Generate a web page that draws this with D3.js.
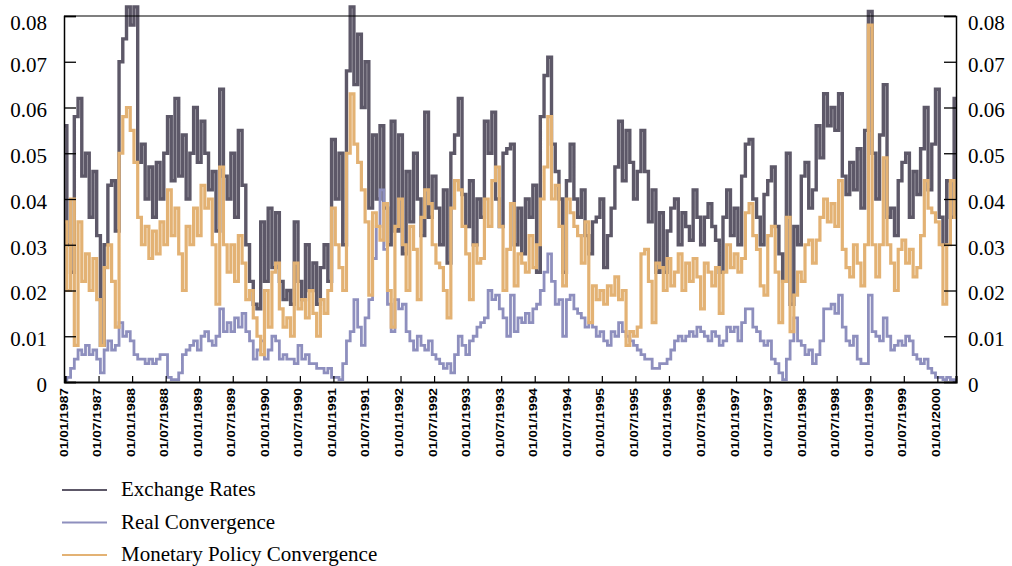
<!DOCTYPE html>
<html>
<head>
<meta charset="utf-8">
<script src="https://cdn.jsdelivr.net/npm/d3@7"></script>
<style>
  body { margin: 0; background: #fff; }
  svg { display: block; }
</style>
</head>
<body>
<svg id="chart"></svg>
<script>
'use strict'

// half-year tick labels (one every 9 points)
const tickLabels = [
  "01/01/1987", "01/07/1987", "01/01/1988", "01/07/1988", "01/01/1989", "01/07/1989",
  "01/01/1990", "01/07/1990", "01/01/1991", "01/07/1991", "01/01/1992", "01/07/1992",
  "01/01/1993", "01/07/1993", "01/01/1994", "01/07/1994", "01/01/1995", "01/07/1995",
  "01/01/1996", "01/07/1996", "01/01/1997", "01/07/1997", "01/01/1998", "01/07/1998",
  "01/01/1999", "01/07/1999", "01/01/2000"
]
const seriesNames = ["Exchange Rates", "Real Convergence", "Monetary Policy Convergence"]
const yTicks = [0, 0.01, 0.02, 0.03, 0.04, 0.05, 0.06, 0.07, 0.08]

const exchangeRates = [
  0.056,0.030,0.024,0.058,0.062,0.045,0.050,0.036,0.046,0.032,
  0.008,0.030,0.043,0.044,0.033,0.070,0.075,0.082,0.078,0.082,
  0.048,0.052,0.040,0.047,0.036,0.048,0.040,0.050,0.058,0.044,
  0.062,0.045,0.054,0.040,0.050,0.060,0.048,0.057,0.050,0.042,
  0.046,0.033,0.064,0.045,0.040,0.050,0.036,0.055,0.043,0.030,
  0.022,0.017,0.016,0.035,0.022,0.038,0.025,0.037,0.022,0.018,
  0.020,0.017,0.035,0.022,0.018,0.030,0.020,0.026,0.017,0.025,
  0.030,0.022,0.053,0.040,0.050,0.030,0.068,0.082,0.065,0.076,
  0.060,0.070,0.038,0.054,0.040,0.056,0.038,0.030,0.057,0.033,
  0.054,0.028,0.046,0.035,0.050,0.040,0.032,0.059,0.036,0.045,
  0.038,0.030,0.042,0.026,0.050,0.054,0.062,0.041,0.034,0.044,
  0.030,0.040,0.036,0.057,0.050,0.059,0.040,0.034,0.050,0.051,
  0.052,0.030,0.038,0.028,0.040,0.036,0.043,0.024,0.058,0.067,
  0.071,0.052,0.046,0.040,0.024,0.044,0.052,0.040,0.036,0.042,
  0.032,0.028,0.035,0.036,0.040,0.025,0.032,0.038,0.047,0.057,
  0.044,0.055,0.048,0.040,0.046,0.055,0.046,0.035,0.042,0.024,
  0.037,0.024,0.033,0.038,0.040,0.030,0.037,0.034,0.031,0.042,
  0.036,0.030,0.036,0.039,0.034,0.031,0.024,0.036,0.042,0.032,
  0.038,0.030,0.045,0.052,0.053,0.040,0.036,0.030,0.041,0.044,
  0.047,0.034,0.028,0.022,0.050,0.017,0.034,0.030,0.045,0.048,
  0.038,0.042,0.056,0.049,0.063,0.056,0.060,0.055,0.063,0.045,
  0.041,0.048,0.042,0.051,0.038,0.055,0.081,0.050,0.040,0.054,
  0.065,0.036,0.038,0.032,0.044,0.048,0.050,0.036,0.046,0.041,
  0.051,0.060,0.042,0.052,0.064,0.036,0.030,0.044,0.036,0.062
]

const realConvergence = [
  0.0005,0.001,0.003,0.005,0.007,0.006,0.008,0.006,0.007,0.005,
  0.002,0.007,0.009,0.007,0.008,0.013,0.010,0.011,0.009,0.006,
  0.005,0.005,0.004,0.005,0.004,0.005,0.006,0.006,0.001,0.0005,
  0.0005,0.002,0.006,0.007,0.008,0.009,0.007,0.010,0.011,0.009,
  0.008,0.010,0.016,0.011,0.013,0.011,0.014,0.012,0.015,0.011,
  0.009,0.005,0.007,0.009,0.005,0.007,0.010,0.009,0.005,0.006,
  0.005,0.005,0.004,0.008,0.005,0.006,0.004,0.004,0.003,0.003,
  0.002,0.003,0.001,0.001,0.0005,0.004,0.009,0.011,0.018,0.012,
  0.008,0.014,0.018,0.027,0.034,0.042,0.029,0.017,0.011,0.018,
  0.016,0.017,0.011,0.009,0.007,0.010,0.008,0.007,0.009,0.006,
  0.005,0.004,0.003,0.004,0.002,0.006,0.010,0.008,0.006,0.009,
  0.010,0.012,0.013,0.014,0.020,0.018,0.019,0.016,0.014,0.010,
  0.019,0.011,0.014,0.013,0.015,0.013,0.016,0.017,0.020,0.024,
  0.028,0.022,0.017,0.018,0.010,0.018,0.019,0.016,0.015,0.014,
  0.012,0.013,0.012,0.010,0.011,0.009,0.008,0.011,0.010,0.013,
  0.011,0.010,0.009,0.008,0.007,0.006,0.005,0.005,0.003,0.003,
  0.004,0.004,0.005,0.007,0.009,0.010,0.009,0.010,0.011,0.010,
  0.012,0.011,0.010,0.009,0.011,0.010,0.008,0.009,0.012,0.011,
  0.012,0.009,0.013,0.016,0.016,0.012,0.011,0.009,0.008,0.009,
  0.005,0.004,0.002,0.0005,0.005,0.009,0.014,0.009,0.008,0.006,
  0.007,0.004,0.006,0.009,0.016,0.016,0.017,0.015,0.019,0.012,
  0.009,0.008,0.010,0.005,0.004,0.004,0.019,0.011,0.010,0.009,
  0.014,0.010,0.007,0.008,0.009,0.008,0.010,0.009,0.006,0.005,
  0.004,0.005,0.003,0.002,0.001,0.001,0.0005,0.001,0.0005,0.0003
]

const monetaryConvergence = [
  0.035,0.020,0.040,0.008,0.035,0.022,0.028,0.020,0.027,0.018,
  0.008,0.025,0.030,0.022,0.012,0.050,0.058,0.060,0.055,0.048,
  0.036,0.030,0.034,0.027,0.033,0.028,0.035,0.030,0.042,0.032,
  0.038,0.028,0.020,0.034,0.030,0.038,0.032,0.043,0.038,0.040,
  0.030,0.017,0.047,0.030,0.024,0.030,0.022,0.032,0.026,0.018,
  0.020,0.014,0.010,0.006,0.020,0.012,0.024,0.026,0.016,0.012,
  0.014,0.010,0.026,0.016,0.018,0.014,0.020,0.015,0.010,0.018,
  0.015,0.020,0.038,0.030,0.025,0.020,0.050,0.063,0.052,0.048,
  0.042,0.035,0.019,0.037,0.034,0.031,0.039,0.020,0.012,0.034,
  0.040,0.030,0.020,0.034,0.029,0.018,0.036,0.042,0.039,0.030,
  0.026,0.025,0.020,0.014,0.038,0.044,0.042,0.034,0.028,0.018,
  0.030,0.026,0.027,0.040,0.034,0.044,0.047,0.034,0.020,0.029,
  0.039,0.021,0.028,0.026,0.024,0.032,0.025,0.030,0.040,0.047,
  0.058,0.040,0.043,0.034,0.021,0.040,0.037,0.034,0.032,0.026,
  0.035,0.013,0.021,0.018,0.020,0.017,0.021,0.019,0.023,0.018,
  0.020,0.008,0.011,0.010,0.012,0.028,0.029,0.022,0.013,0.026,
  0.025,0.020,0.027,0.021,0.024,0.028,0.020,0.026,0.022,0.027,
  0.023,0.016,0.026,0.024,0.021,0.025,0.015,0.024,0.030,0.025,
  0.028,0.024,0.027,0.037,0.039,0.032,0.029,0.021,0.019,0.032,
  0.034,0.024,0.013,0.022,0.036,0.011,0.019,0.024,0.022,0.030,
  0.031,0.026,0.031,0.036,0.040,0.035,0.039,0.034,0.044,0.029,
  0.025,0.023,0.030,0.026,0.021,0.030,0.078,0.030,0.023,0.030,
  0.049,0.030,0.026,0.020,0.029,0.031,0.026,0.029,0.023,0.025,
  0.032,0.044,0.038,0.037,0.035,0.030,0.017,0.030,0.044,0.036
]

const colors = ["#5d5868", "#8e8fbe", "#e3b274"]
const serif = '"Liberation Serif", "Times New Roman", serif'

const margins = {top: 16, right: 56, bottom: 184, left: 64}
const svgWidth = 1012, svgHeight = 566
const chartWidth = svgWidth - margins.left - margins.right   // 892
const chartHeight = svgHeight - margins.top - margins.bottom // 366

const x = d3.scaleLinear().domain([0, exchangeRates.length - 1]).range([1, chartWidth])
const y = d3.scaleLinear().domain([0, 0.08]).range([chartHeight, 0])

const svg = d3.select('#chart').attr("width", svgWidth).attr("height", svgHeight)
const g = svg.append("g").attr("transform", "translate(" + margins.left + "," + margins.top + ")")

// lines drawn as steps (the source is dense weekly data): dark first, then purple, orange on top
const line = d3.line().curve(d3.curveStep).x((d, i) => x(i)).y(d => y(d))
const order = [
  {values: exchangeRates, color: colors[0], w: 3.4},
  {values: realConvergence, color: colors[1], w: 2.8},
  {values: monetaryConvergence, color: colors[2], w: 3.2}
]
order.forEach(s => {
  g.append("path")
    .datum(s.values)
    .attr("fill", "none")
    .attr("stroke", s.color)
    .attr("stroke-width", s.w)
    .attr("d", line)
})

// top border
g.append("line").attr("x1", 0).attr("x2", chartWidth).attr("y1", 0).attr("y2", 0)
  .attr("stroke", "#000").attr("stroke-width", 1.2)

const fmt = d => d === 0 ? "0" : d3.format(".2f")(d)

// left axis, ticks pointing inward
const yLeft = g.append("g")
  .call(d3.axisRight(y).tickValues(yTicks).tickSize(12).tickFormat(""))
yLeft.select(".domain").attr("stroke-width", 1.5)
yLeft.selectAll(".tick line").attr("stroke-width", 1.3)
yLeft.selectAll(".tick").append("text")
  .attr("x", -17).attr("dy", d => d === 0.08 ? "0.62em" : "0.45em")
  .attr("text-anchor", "end")
  .style("font-family", serif).style("font-size", "21px").style("fill", "#000")
  .text(fmt)

// right axis
const yRight = g.append("g")
  .attr("transform", "translate(" + chartWidth + ",0)")
  .call(d3.axisLeft(y).tickValues(yTicks).tickSize(12).tickFormat(""))
yRight.select(".domain").attr("stroke-width", 1.5)
yRight.selectAll(".tick line").attr("stroke-width", 1.3)
yRight.selectAll(".tick").append("text")
  .attr("x", 12).attr("dy", d => d === 0.08 ? "0.62em" : "0.45em")
  .attr("text-anchor", "start")
  .style("font-family", serif).style("font-size", "21px").style("fill", "#000")
  .text(fmt)

// bottom axis, small ticks pointing up
const xAxis = g.append("g")
  .attr("transform", "translate(0," + chartHeight + ")")
  .call(d3.axisTop(x).tickValues(tickLabels.map((d, i) => i * 9)).tickSize(6).tickFormat(""))
xAxis.select(".domain").attr("stroke-width", 2.2)
xAxis.selectAll(".tick line").attr("stroke-width", 1.2)
xAxis.selectAll(".tick").append("text")
  .attr("transform", "translate(2,6) rotate(-90)")
  .attr("text-anchor", "end")
  .attr("textLength", 69)
  .attr("lengthAdjust", "spacingAndGlyphs")
  .style("font-family", '"Liberation Sans", Arial, sans-serif')
  .style("font-weight", "bold").style("font-size", "11.5px").style("fill", "#000")
  .text((d, i) => tickLabels[i])

// legend
const legend = svg.append("g")
seriesNames.forEach((name, i) => {
  const ly = 490 + i * 32.5
  legend.append("line")
    .attr("x1", 62).attr("x2", 107).attr("y1", ly).attr("y2", ly)
    .attr("stroke", colors[i]).attr("stroke-width", 2)
  legend.append("text")
    .attr("x", 121).attr("y", ly + 6)
    .style("font-family", serif).style("font-size", "21px").style("fill", "#000")
    .text(name)
})
</script>
</body>
</html>
